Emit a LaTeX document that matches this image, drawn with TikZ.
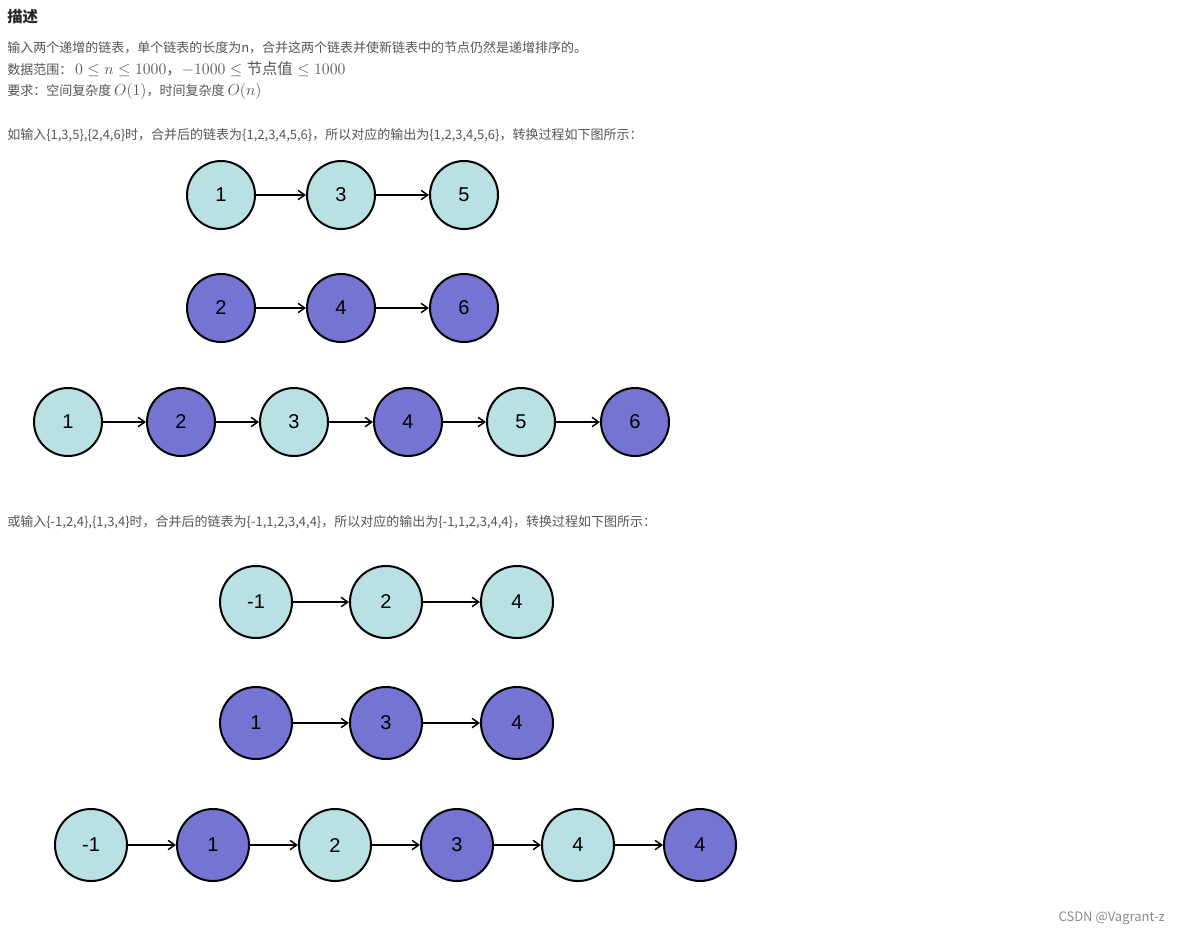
\documentclass[tikz,border=0pt]{standalone}
\usepackage{fontspec}
\setmainfont{Noto Sans CJK SC}
\newfontfamily\arialf{Liberation Sans}
\usetikzlibrary{arrows.meta}
\definecolor{lc}{HTML}{B9E0E3}
\definecolor{pc}{HTML}{7674D3}
\definecolor{tg}{HTML}{555555}
\begin{document}
\begin{tikzpicture}[x=0.75pt,y=-0.75pt,
  a/.style={circle,draw=black,line width=1.5pt,minimum size=51pt,inner sep=0pt,font=\arialf\fontsize{15}{15}\selectfont},
  b/.style={a,minimum size=54pt},
  L/.style={fill=lc},P/.style={fill=pc},
  ar/.style={-{Straight Barb[length=5pt,width=7pt]},line width=1.1pt},
  t/.style={anchor=west,inner sep=0pt,text=tg,font=\fontsize{9.75}{11}\selectfont}]
\useasboundingbox (0,0) rectangle (1180,936);
\fill[white] (0,0) rectangle (1180,936);
\node[anchor=west,inner sep=0pt,font=\bfseries\fontsize{11.5}{13}\selectfont,text=black!85] (h) at (7,17) {描述};
\node[t] (t1) at (7,48) {输入两个递增的链表，单个链表的长度为n，合并这两个链表并使新链表中的节点仍然是递增排序的。};
\node[t] (t2) at (7,69) {数据范围： {\fontsize{11.5}{13}\selectfont$0\le n\le 1000$，$-1000\le\mbox{节点值}\le 1000$}};
\node[t] (t3) at (7,91) {要求：空间复杂度 {\fontsize{11.5}{13}\selectfont$O(1)$}，时间复杂度 {\fontsize{11.5}{13}\selectfont$O(n)$}};
\node[t] (t4) at (7,135) {如输入\{1,3,5\},\{2,4,6\}时，合并后的链表为\{1,2,3,4,5,6\}，所以对应的输出为\{1,2,3,4,5,6\}，转换过程如下图所示：};
\node[t] (t5) at (7,522) {或输入\{-1,2,4\},\{1,3,4\}时，合并后的链表为\{-1,1,2,3,4,4\}，所以对应的输出为\{-1,1,2,3,4,4\}，转换过程如下图所示：};
\node[anchor=east,inner sep=0pt,text=black!45,font=\fontsize{9.75}{11}\selectfont] (w) at (1165,918) {CSDN @Vagrant-z};
% diagram 1
\node[a,L] (a1) at (221,195) {1};
\node[a,L] (a2) at (341,195) {3};
\node[a,L] (a3) at (464,195) {5};
\node[a,P] (b1) at (221,308) {2};
\node[a,P] (b2) at (341,308) {4};
\node[a,P] (b3) at (464,308) {6};
\node[a,L] (c1) at (68,422) {1};
\node[a,P] (c2) at (181,422) {2};
\node[a,L] (c3) at (294,422) {3};
\node[a,P] (c4) at (408,422) {4};
\node[a,L] (c5) at (521,422) {5};
\node[a,P] (c6) at (635,422) {6};
\draw[ar] (a1)--(a2); \draw[ar] (a2)--(a3);
\draw[ar] (b1)--(b2); \draw[ar] (b2)--(b3);
\foreach \i/\j in {1/2,2/3,3/4,4/5,5/6} \draw[ar] (c\i)--(c\j);
% diagram 2
\node[b,L] (d1) at (256,602) {-1};
\node[b,L] (d2) at (386,602) {2};
\node[b,L] (d3) at (517,602) {4};
\node[b,P] (e1) at (256,723) {1};
\node[b,P] (e2) at (386,723) {3};
\node[b,P] (e3) at (517,723) {4};
\node[b,L] (f1) at (91,845) {-1};
\node[b,P] (f2) at (213,845) {1};
\node[b,L] (f3) at (335,845) {2};
\node[b,P] (f4) at (457,845) {3};
\node[b,L] (f5) at (578,845) {4};
\node[b,P] (f6) at (700,845) {4};
\draw[ar] (d1)--(d2); \draw[ar] (d2)--(d3);
\draw[ar] (e1)--(e2); \draw[ar] (e2)--(e3);
\foreach \i/\j in {1/2,2/3,3/4,4/5,5/6} \draw[ar] (f\i)--(f\j);
\end{tikzpicture}
\end{document}
